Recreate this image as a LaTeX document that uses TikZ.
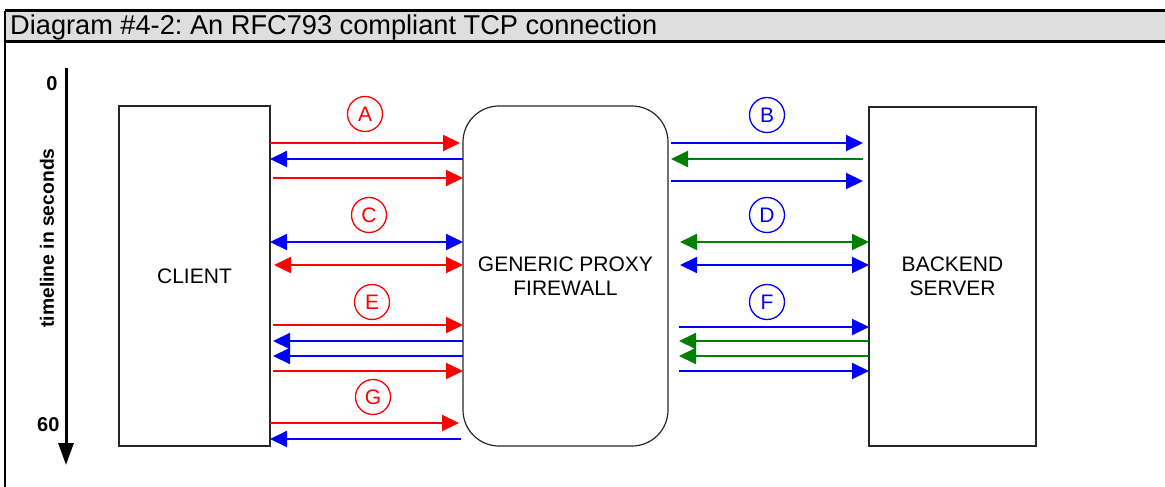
\documentclass[tikz,border=0pt]{standalone}
\usepackage{fontspec}
\setmainfont{Liberation Sans}
\usetikzlibrary{arrows.meta}

\definecolor{ackgreen}{RGB}{0,128,0}
\frenchspacing

\begin{document}
\begin{tikzpicture}[x=1pt, y=-1pt, >={Triangle[length=17pt,width=16pt]},
    msg/.style={line width=2pt},
    tag/.style={circle, draw=#1, text=#1, line width=1.3pt, minimum size=35pt,
        inner sep=0pt, font=\fontsize{21}{21}\selectfont},
    box/.style={draw=black!85, line width=1.2pt, inner sep=0pt, outer sep=0pt,
        align=center, font=\fontsize{21}{24}\selectfont}]
    \useasboundingbox (0,0) rectangle (1165,487);

    % frame and title bar
    \fill[black!13] (5,11) rectangle (1165,42);
    \draw[line width=3pt] (5,11) -- (1165,11) (5,42) -- (1165,42);
    \draw[line width=2.5pt] (5,11) -- (5,487);
    \node[anchor=west, inner sep=0pt, font=\fontsize{27.2}{27.2}\selectfont] (title) at (10,27.5)
        {Diagram \#4-2: An RFC793 compliant TCP connection};

    % timeline
    \coordinate (t0) at (66,68);
    \coordinate (t60) at (66,465);
    \draw[line width=3pt, -{Triangle[length=22pt,width=15pt]}] (t0) -- (t60);
    \node[font=\bfseries\fontsize{20}{20}\selectfont] (zero) at (52,84) {0};
    \node[anchor=east, font=\bfseries\fontsize{20}{20}\selectfont] (sixty) at (63,425) {60};
    \node[rotate=90, font=\bfseries\fontsize{19.3}{19.3}\selectfont] (axis) at (47,238)
        {timeline in seconds};

    % the three hosts
    \node[box, minimum width=151pt, minimum height=340pt] (client) at (194.5,276) {CLIENT};
    \node[box, rounded corners=36pt, minimum width=205pt, minimum height=340pt] (proxy)
        at (565.5,276) {GENERIC PROXY\\FIREWALL};
    \node[box, minimum width=167pt, minimum height=339pt] (backend) at (952.5,276.5)
        {BACKEND\\SERVER};

    % phase markers
    \node[tag=red] (lblA) at (365,114) {A};
    \node[tag=blue] (lblB) at (767,115) {B};
    \node[tag=red] (lblC) at (369,215) {C};
    \node[tag=blue] (lblD) at (767,215) {D};
    \node[tag=red] (lblE) at (372,302) {E};
    \node[tag=blue] (lblF) at (767,302) {F};
    \node[tag=red] (lblG) at (373,397) {G};

    % client <-> proxy
    \draw[msg, red, ->] (client.east |- 0,143) -- ([xshift=-3pt]proxy.west |- 0,143);
    \draw[msg, blue, ->] (proxy.west |- 0,159) -- (client.east |- 0,159);
    \draw[msg, red, ->] ([xshift=3pt]client.east |- 0,178) -- (proxy.west |- 0,178);

    \draw[msg, blue, <->] (client.east |- 0,242) -- (proxy.west |- 0,242);
    \draw[msg, red, <->] ([xshift=4pt]client.east |- 0,265) -- (proxy.west |- 0,265);

    \draw[msg, red, ->] ([xshift=3pt]client.east |- 0,325) -- (proxy.west |- 0,325);
    \draw[msg, blue, ->] (proxy.west |- 0,341) -- ([xshift=3pt]client.east |- 0,341);
    \draw[msg, blue, ->] (proxy.west |- 0,356) -- ([xshift=3pt]client.east |- 0,356);
    \draw[msg, red, ->] ([xshift=3pt]client.east |- 0,371) -- (proxy.west |- 0,371);

    \draw[msg, red, ->] (client.east |- 0,423) -- ([xshift=-4pt]proxy.west |- 0,423);
    \draw[msg, blue, ->] ([xshift=-2pt]proxy.west |- 0,439) -- (client.east |- 0,439);

    % proxy <-> backend
    \draw[msg, blue, ->] ([xshift=3pt]proxy.east |- 0,143) -- ([xshift=-6pt]backend.west |- 0,143);
    \draw[msg, ackgreen, ->] ([xshift=-6pt]backend.west |- 0,159) -- ([xshift=3pt]proxy.east |- 0,159);
    \draw[msg, blue, ->] ([xshift=3pt]proxy.east |- 0,181) -- ([xshift=-6pt]backend.west |- 0,181);

    \draw[msg, ackgreen, <->] ([xshift=12pt]proxy.east |- 0,242) -- (backend.west |- 0,242);
    \draw[msg, blue, <->] ([xshift=12pt]proxy.east |- 0,265) -- (backend.west |- 0,265);

    \draw[msg, blue, ->] ([xshift=11pt]proxy.east |- 0,327) -- (backend.west |- 0,327);
    \draw[msg, ackgreen, ->] (backend.west |- 0,341) -- ([xshift=11pt]proxy.east |- 0,341);
    \draw[msg, ackgreen, ->] (backend.west |- 0,356) -- ([xshift=11pt]proxy.east |- 0,356);
    \draw[msg, blue, ->] ([xshift=11pt]proxy.east |- 0,371) -- (backend.west |- 0,371);
\end{tikzpicture}
\end{document}
